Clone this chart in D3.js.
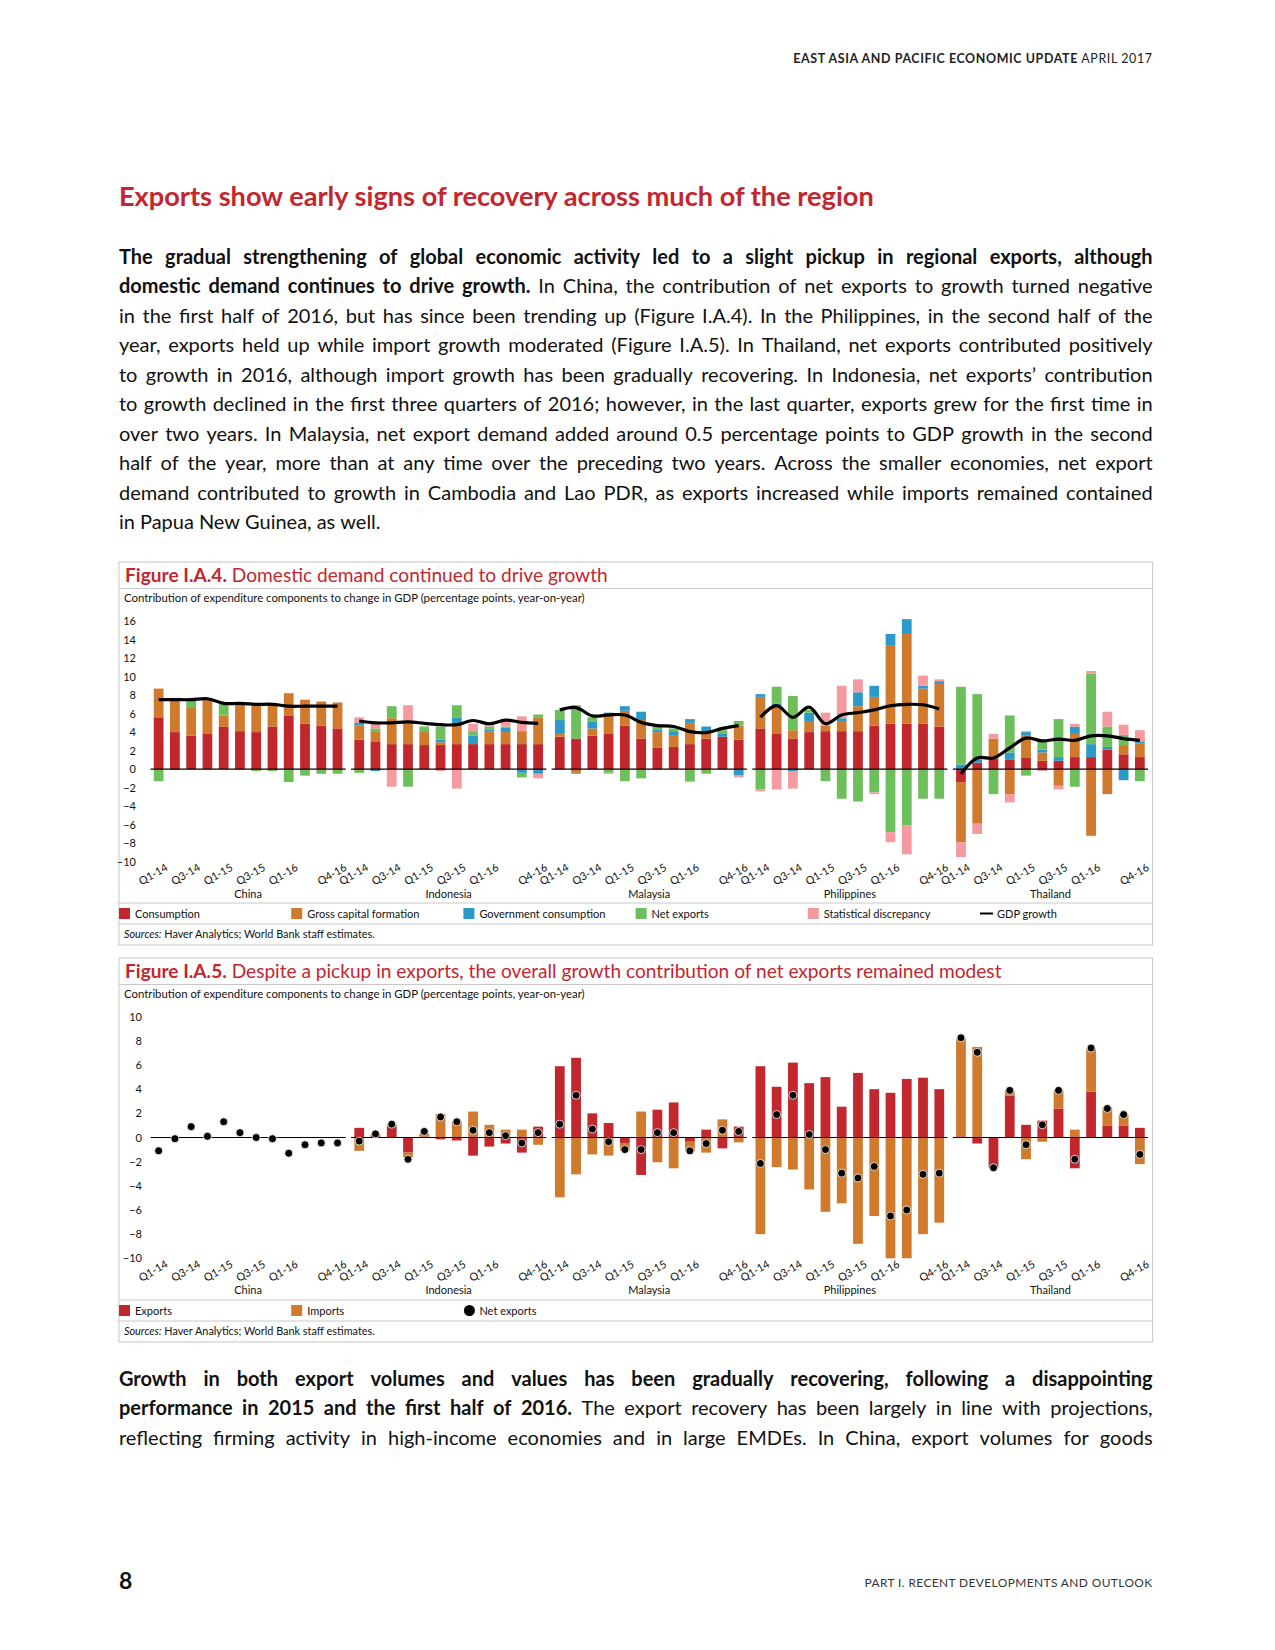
<!DOCTYPE html>
<html>
<head>
<meta charset="utf-8">
<script src="https://cdn.jsdelivr.net/npm/d3@7"></script>
<style>
  body { margin: 0; background: #fff; }
  svg { display: block; }
</style>
</head>
<body>
<svg id="page" width="1275" height="1650"></svg>
<script>
// ---- data ----
const countries = ['China', 'Indonesia', 'Malaysia', 'Philippines', 'Thailand']
const quarters = ['Q1-14', 'Q2-14', 'Q3-14', 'Q4-14', 'Q1-15', 'Q2-15', 'Q3-15', 'Q4-15', 'Q1-16', 'Q2-16', 'Q3-16', 'Q4-16']
const tickQuarters = ['Q1-14', 'Q3-14', 'Q1-15', 'Q3-15', 'Q1-16', 'Q4-16']
const yTicks4 = [-10, -8, -6, -4, -2, 0, 2, 4, 6, 8, 10, 12, 14, 16]
const yTicks5 = [-10, -8, -6, -4, -2, 0, 2, 4, 6, 8, 10]

// Figure I.A.4, one row per country
const consumption = [
  [5.6, 4.0, 3.6, 3.8, 4.6, 4.1, 4.0, 4.6, 5.8, 4.9, 4.7, 4.4],
  [3.2, 3.0, 2.7, 2.7, 2.6, 2.6, 2.7, 2.7, 2.7, 2.7, 2.7, 2.7],
  [3.5, 3.3, 3.6, 3.8, 4.7, 3.3, 2.3, 2.4, 2.7, 3.3, 3.5, 3.2],
  [4.4, 3.8, 3.3, 4.0, 4.1, 4.1, 4.1, 4.7, 4.9, 4.9, 4.9, 4.6],
  [-1.4, 0.7, 1.1, 1.0, 1.2, 0.9, 0.9, 1.3, 1.3, 2.1, 1.6, 1.3]
]
const capitalFormation = [
  [3.1, 3.5, 3.0, 3.8, 1.2, 3.1, 2.9, 2.5, 2.4, 2.6, 2.6, 2.8],
  [1.5, 1.1, 2.8, 2.5, 1.4, 0.3, 2.2, 0.0, 1.4, 1.3, 1.4, 2.9],
  [0.4, -0.4, 0.8, 2.1, 1.6, 2.0, 1.7, 1.2, 2.3, 0.5, 0.0, 1.5],
  [3.4, 3.1, 0.9, 1.2, 0.6, 1.1, 2.7, 3.1, 8.5, 9.7, 3.8, 4.6],
  [-6.5, -5.9, 2.2, -2.7, 2.4, 0.9, -1.8, 2.5, -7.2, -2.7, 1.0, 1.5]
]
const governmentConsumption = [
  [0, 0, 0, 0, 0, 0, 0, 0, 0, 0, 0, 0],
  [0.3, -0.2, 0, 0, 0.1, 0.3, 0.7, 0.9, 0.2, 0.5, -0.4, -0.5],
  [1.4, -0.1, 0.7, 0.2, 0.5, 0.9, 0.3, 0.5, 0.4, 0.8, 0.3, -0.7],
  [0.3, 0.2, -0.2, 0.9, 0, 0.3, 1.5, 1.2, 1.2, 1.6, 0.3, 0.3],
  [0.5, 0.3, 0, 0.8, 0.4, 0.3, 0.4, 0.8, 1.4, 0.3, -1.2, 0.2]
]
const netExports4 = [
  [-1.3, -0.1, 0.8, 0.1, 1.3, 0, -0.2, -0.2, -1.4, -0.7, -0.5, -0.5],
  [-0.4, 0.3, 1.3, -1.9, 0.5, 1.4, 1.3, 0.5, 0.3, 0.1, -0.5, 0.3],
  [1.1, 3.6, 0.5, -0.4, -1.3, -1.0, 0.3, 0.3, -1.3, -0.5, 0.4, 0.5],
  [-2.2, 1.8, 3.7, 0.3, -1.3, -3.2, -3.5, -2.5, -6.8, -6.1, -3.2, -3.2],
  [8.4, 7.1, -2.7, 4.0, -0.7, 0.9, 4.1, -1.9, 7.6, 2.2, 1.1, -1.3]
]
const discrepancy = [
  [0, 0, 0, 0, 0, 0, 0, 0, 0, 0, 0, 0],
  [0.6, 0.5, -1.9, 1.7, 0, -0.2, -2.1, 0.8, 0.5, 0.5, 1.6, -0.5],
  [0, 0, 0, -0.1, 0, 0, 0, 0, -0.1, 0, 0.3, -0.2],
  [-0.2, -2.2, -1.9, 0, 1.4, 3.5, 1.4, -0.2, -1.1, -3.1, 1.1, 0.2],
  [-1.6, -1.1, 0.5, -0.9, 0.1, -0.2, -0.4, 0.3, 0.3, 1.6, 1.1, 1.2]
]
const gdpGrowth = [
  [7.5, 7.5, 7.5, 7.6, 7.1, 7.1, 7.0, 7.0, 6.8, 6.8, 6.8, 6.8],
  [5.2, 5.0, 5.0, 5.1, 4.95, 4.8, 4.8, 5.25, 4.9, 5.3, 5.05, 4.95],
  [6.4, 6.65, 5.75, 5.85, 5.85, 5.05, 4.7, 4.6, 4.05, 3.95, 4.4, 4.7],
  [5.6, 6.85, 5.6, 6.7, 4.9, 5.85, 6.1, 6.4, 6.85, 7.0, 6.95, 6.5],
  [-0.5, 1.2, 1.2, 2.3, 3.35, 3.05, 3.25, 3.1, 3.6, 3.6, 3.3, 3.1]
]

// Figure I.A.5
const exportsContrib = [
  [0, 0, 0, 0, 0, 0, 0, 0, 0, 0, 0, 0],
  [0.8, 0.15, 0.9, -1.25, 0.05, -0.15, -0.25, -1.5, -0.75, -0.5, -1.25, 0.9],
  [5.9, 6.6, 2.0, 1.2, -0.45, -3.1, 2.3, 2.9, -0.35, 0.65, -0.9, 0.9],
  [5.9, 4.2, 6.2, 4.5, 5.0, 2.55, 5.35, 4.0, 3.7, 4.85, 4.95, 4.0],
  [0.1, -0.5, -2.5, 3.45, 1.05, 1.4, 2.4, -2.55, 3.8, 1.0, 1.0, 0.8]
]
const importsContrib = [
  [0, 0, 0, 0, 0, 0, 0, 0, 0, 0, 0, 0],
  [-1.1, 0.15, 0.2, -0.4, 0.3, 1.95, 1.35, 2.15, 1.05, 0.65, 0.65, -0.6],
  [-4.95, -3.05, -1.4, -1.5, -0.65, 2.15, -2.05, -2.55, -0.8, -1.25, 1.5, -0.4],
  [-8.0, -2.45, -2.65, -4.3, -6.15, -5.45, -8.8, -6.5, -10.2, -10.8, -8.0, -7.05],
  [8.1, 7.5, 0, 0.4, -1.8, -0.35, 1.5, 0.65, 3.55, 1.5, 0.9, -2.2]
]
const netExports5 = [
  [-1.1, -0.1, 0.9, 0.1, 1.3, 0.4, 0, -0.1, -1.3, -0.6, -0.45, -0.45],
  [-0.3, 0.3, 1.1, -1.8, 0.5, 1.7, 1.3, 0.6, 0.4, 0.15, -0.45, 0.4],
  [1.1, 3.5, 0.7, -0.35, -1.0, -1.0, 0.4, 0.4, -1.1, -0.5, 0.6, 0.5],
  [-2.15, 1.9, 3.5, 0.25, -1.0, -2.95, -3.35, -2.4, -6.5, -6.0, -3.05, -2.95],
  [8.25, 7.05, -2.5, 3.9, -0.6, 1.05, 3.9, -1.8, 7.4, 2.4, 1.9, -1.4]
]

const labels4 = ['Consumption', 'Gross capital formation', 'Government consumption', 'Net exports', 'Statistical discrepancy']
const labels5 = ['Exports', 'Imports', 'Net exports']

const para1 = [
  [['The gradual strengthening of global economic activity led to a slight pickup in regional exports, although', 1]],
  [['domestic demand continues to drive growth.', 1], ['In China, the contribution of net exports to growth turned negative', 0]],
  [['in the first half of 2016, but has since been trending up (Figure I.A.4). In the Philippines, in the second half of the', 0]],
  [['year, exports held up while import growth moderated (Figure I.A.5). In Thailand, net exports contributed positively', 0]],
  [['to growth in 2016, although import growth has been gradually recovering. In Indonesia, net exports’ contribution', 0]],
  [['to growth declined in the first three quarters of 2016; however, in the last quarter, exports grew for the first time in', 0]],
  [['over two years. In Malaysia, net export demand added around 0.5 percentage points to GDP growth in the second', 0]],
  [['half of the year, more than at any time over the preceding two years. Across the smaller economies, net export', 0]],
  [['demand contributed to growth in Cambodia and Lao PDR, as exports increased while imports remained contained', 0]],
  [['in Papua New Guinea, as well.', 0]]
]
const para2 = [
  [['Growth in both export volumes and values has been gradually recovering, following a disappointing', 1]],
  [['performance in 2015 and the first half of 2016.', 1], ['The export recovery has been largely in line with projections,', 0]],
  [['reflecting firming activity in high-income economies and in large EMDEs. In China, export volumes for goods', 0]]
]

// ---- styles ----
const FONT = 'Lato, "Open Sans", sans-serif'
const titleRed = '#c3262e'
const frameGray = '#c8c8c8'
const colors4 = ['#c1272d', '#d07a2d', '#2b9ac8', '#6cbf5a', '#f59aa0']
const colors5 = ['#c1272d', '#d07a2d']
const L = 119, R = 1152.6

const svg = d3.select('#page').style('font-family', FONT)

function fitWidth (t, w) {
  const fs = parseFloat(t.style('font-size'))
  const len = t.node().getComputedTextLength()
  t.style('font-size', (fs * w / len) + 'px')
  return t
}

// justified paragraph line: words placed one by one
function paraLine (segs, y, justify, fs) {
  const words = []
  segs.forEach(([t, b]) => t.split(' ').filter(w => w).forEach(w => words.push({ w, b })))
  const g = svg.append('g')
  const nodes = words.map(d => g.append('text')
    .attr('y', y)
    .style('font-size', fs + 'px')
    .style('font-weight', d.b ? 700 : 400)
    .attr('fill', '#111')
    .text(d.w))
  const widths = nodes.map(n => n.node().getComputedTextLength())
  const total = d3.sum(widths)
  const width = R - L
  let gap = justify ? (width - total) / (words.length - 1) : fs * 0.25
  let sx = 1
  if (gap < fs * 0.18) {
    gap = fs * 0.18
    sx = width / (total + gap * (words.length - 1))
  }
  let x = 0
  nodes.forEach((n, i) => {
    n.attr('x', x)
    x += widths[i] + gap
  })
  g.attr('transform', `translate(${L},0) scale(${sx},1)`)
}

// ---- page text ----
const hdr = svg.append('text').attr('x', R).attr('y', 63).attr('text-anchor', 'end')
  .style('font-size', '11.5px').style('letter-spacing', '0.6px').attr('fill', '#222')
hdr.append('tspan').style('font-weight', 700).text('EAST ASIA AND PACIFIC ECONOMIC UPDATE')
hdr.append('tspan').text(' APRIL 2017')
fitWidth(hdr, 362)

fitWidth(svg.append('text').attr('x', L).attr('y', 206)
  .style('font-size', '24px').style('font-weight', 700).attr('fill', titleRed)
  .text('Exports show early signs of recovery across much of the region'), 755)

para1.forEach((segs, i) => paraLine(segs, 264 + i * 29.47, i < para1.length - 1, 20))
para2.forEach((segs, i) => paraLine(segs, 1386 + i * 29.47, true, 20))

svg.append('text').attr('x', L).attr('y', 1589).style('font-size', '23px').style('font-weight', 700)
  .attr('fill', '#111').text('8')
fitWidth(svg.append('text').attr('x', R).attr('y', 1587).attr('text-anchor', 'end')
  .style('font-size', '11.5px').style('letter-spacing', '0.4px').attr('fill', '#333')
  .text('PART I. RECENT DEVELOPMENTS AND OUTLOOK'), 289)

// ---- shared x scales ----
const xOuter = d3.scaleBand().domain(countries).range([150.5, 1148]).paddingInner(0.027)
const xInner = d3.scaleBand().domain(quarters).range([0, xOuter.bandwidth()])
  .paddingInner(0.4).paddingOuter(0.2)
const cx = d => xOuter(d.country) + xInner(d.quarter) + xInner.bandwidth() / 2

function frame (top, bottom, titleBold, titleRest, titleW, legendY) {
  const g = svg.append('g')
  g.append('rect').attr('x', L).attr('y', top).attr('width', R - L).attr('height', bottom - top)
    .attr('fill', 'none').attr('stroke', frameGray)
  g.append('line').attr('x1', L).attr('x2', R).attr('y1', top + 26.5).attr('y2', top + 26.5).attr('stroke', frameGray)
  g.append('line').attr('x1', L).attr('x2', R).attr('y1', legendY - 10.5).attr('y2', legendY - 10.5).attr('stroke', frameGray)
  g.append('line').attr('x1', L).attr('x2', R).attr('y1', legendY + 10.5).attr('y2', legendY + 10.5).attr('stroke', frameGray)
  const t = g.append('text').attr('x', L + 6).attr('y', top + 19.5).style('font-size', '18px').attr('fill', titleRed)
  t.append('tspan').style('font-weight', 700).text(titleBold)
  t.append('tspan').text(' ' + titleRest)
  fitWidth(t, titleW)
  fitWidth(g.append('text').attr('x', L + 5).attr('y', top + 40).style('font-size', '10.5px').attr('fill', '#111')
    .text('Contribution of expenditure components to change in GDP (percentage points, year-on-year)'), 461)
  const s = g.append('text').attr('x', L + 5).attr('y', bottom - 7).style('font-size', '10px').attr('fill', '#111')
  s.append('tspan').style('font-style', 'italic').text('Sources:')
  s.append('tspan').text(' Haver Analytics; World Bank staff estimates.')
  fitWidth(s, 251)
  return g
}

function xLabels (g, yBottom) {
  countries.forEach(c => {
    tickQuarters.forEach(q => {
      const x = cx({ country: c, quarter: q })
      g.append('text')
        .attr('transform', `translate(${x + 10},${yBottom + 8}) rotate(-30)`)
        .attr('text-anchor', 'end').style('font-size', '10.8px').attr('fill', '#111')
        .text(q)
    })
    g.append('text').attr('x', xOuter(c) + xOuter.bandwidth() / 2).attr('y', yBottom + 36)
      .attr('text-anchor', 'middle').style('font-size', '11px').attr('fill', '#111').text(c)
  })
}

function zeroLines (g, y) {
  countries.forEach(c => {
    g.append('line').attr('x1', xOuter(c)).attr('x2', xOuter(c) + xOuter.bandwidth())
      .attr('y1', y(0)).attr('y2', y(0)).attr('stroke', '#000').attr('stroke-width', 1.1)
  })
}

function yAxis (g, y, ticks, x) {
  g.append('g').attr('transform', `translate(${x},0)`)
    .call(d3.axisLeft(y).tickValues(ticks).tickSize(0).tickPadding(0))
    .call(a => a.select('.domain').remove())
    .attr('font-family', FONT).attr('font-size', 11)
    .selectAll('text').attr('fill', '#111')
}

// ---- Figure I.A.4 ----
{
  const g = frame(562, 945, 'Figure I.A.4.', 'Domestic demand continued to drive growth', 483, 913.5)
  const y = d3.scaleLinear().domain([-10, 16]).range([861.7, 621])
  const keys = ['c', 'k', 'g', 'n', 's']
  const rows = []
  countries.forEach((c, i) => quarters.forEach((q, j) => rows.push({
    country: c,
    quarter: q,
    c: consumption[i][j],
    k: capitalFormation[i][j],
    g: governmentConsumption[i][j],
    n: netExports4[i][j],
    s: discrepancy[i][j],
    gdp: gdpGrowth[i][j]
  })))
  const series = d3.stack().keys(keys).offset(d3.stackOffsetDiverging)(rows)

  yAxis(g, y, yTicks4, 136)

  g.append('g').selectAll('g').data(series).join('g')
    .attr('fill', (d, i) => colors4[i])
    .selectAll('rect').data(d => d).join('rect')
    .attr('x', d => xOuter(d.data.country) + xInner(d.data.quarter))
    .attr('width', xInner.bandwidth())
    .attr('y', d => y(Math.max(d[0], d[1])))
    .attr('height', d => Math.abs(y(d[0]) - y(d[1])))

  zeroLines(g, y)

  const line = d3.line().x(cx).y(d => y(d.gdp)).curve(d3.curveCatmullRom)
  countries.forEach(c => {
    g.append('path').datum(rows.filter(r => r.country === c))
      .attr('d', line).attr('fill', 'none').attr('stroke', '#000').attr('stroke-width', 3.2)
  })

  xLabels(g, 861.7)

  // legend
  const ly = 913.5
  labels4.forEach((lab, i) => {
    const x = L + i * 172.2
    g.append('rect').attr('x', x).attr('y', ly - 5.5).attr('width', 11).attr('height', 11).attr('fill', colors4[i])
    g.append('text').attr('x', x + 16).attr('y', ly + 4).style('font-size', '11px').attr('fill', '#111').text(lab)
  })
  const lx = L + 5 * 172.2
  g.append('line').attr('x1', lx).attr('x2', lx + 13).attr('y1', ly).attr('y2', ly).attr('stroke', '#000').attr('stroke-width', 2)
  g.append('text').attr('x', lx + 17).attr('y', ly + 4).style('font-size', '11px').attr('fill', '#111').text('GDP growth')
}

// ---- Figure I.A.5 ----
{
  const g = frame(958, 1342, 'Figure I.A.5.', 'Despite a pickup in exports, the overall growth contribution of net exports remained modest', 877, 1310.5)
  const y = d3.scaleLinear().domain([-10, 10]).range([1258.3, 1016.7]).clamp(true)
  const rows = []
  countries.forEach((c, i) => quarters.forEach((q, j) => rows.push({
    country: c,
    quarter: q,
    e: exportsContrib[i][j],
    m: importsContrib[i][j],
    net: netExports5[i][j]
  })))
  const series = d3.stack().keys(['e', 'm']).offset(d3.stackOffsetDiverging)(rows)

  yAxis(g, y, yTicks5, 142)

  g.append('g').selectAll('g').data(series).join('g')
    .attr('fill', (d, i) => colors5[i])
    .selectAll('rect').data(d => d).join('rect')
    .attr('x', d => xOuter(d.data.country) + xInner(d.data.quarter))
    .attr('width', xInner.bandwidth())
    .attr('y', d => y(Math.max(d[0], d[1])))
    .attr('height', d => Math.abs(y(d[0]) - y(d[1])))

  zeroLines(g, y)

  g.append('g').selectAll('circle').data(rows).join('circle')
    .attr('cx', cx).attr('cy', d => y(d.net)).attr('r', 4)
    .attr('fill', '#000').attr('stroke', '#fff').attr('stroke-width', 0.8)

  xLabels(g, 1258.3)

  const ly = 1310.5
  labels5.forEach((lab, i) => {
    const x = L + i * 172.2
    if (i < 2) {
      g.append('rect').attr('x', x).attr('y', ly - 5.5).attr('width', 11).attr('height', 11).attr('fill', colors5[i])
    } else {
      g.append('circle').attr('cx', x + 6).attr('cy', ly).attr('r', 5.5).attr('fill', '#000')
    }
    g.append('text').attr('x', x + 16).attr('y', ly + 4).style('font-size', '11px').attr('fill', '#111').text(lab)
  })
}
</script>
</body>
</html>
